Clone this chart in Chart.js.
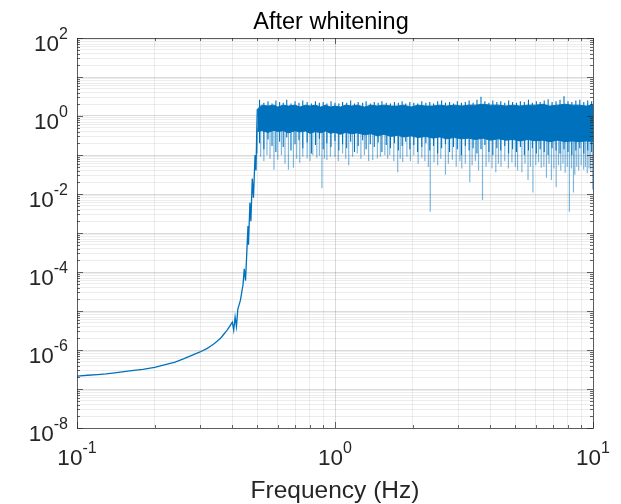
<!DOCTYPE html>
<html>
<head>
<meta charset="utf-8">
<script src="https://cdn.jsdelivr.net/npm/chart.js@4"></script>
<style>
  body { margin: 0; background: #fff; }
</style>
</head>
<body>
<canvas id="myChart" width="621" height="504"></canvas>
<script>
// smooth low-frequency part and the steep rise (Hz, amplitude)
const rollHz  = [0.1, 0.11, 0.12, 0.13, 0.14, 0.16, 0.18, 0.2, 0.22, 0.24, 0.26, 0.28, 0.3, 0.32, 0.33, 0.34, 0.35, 0.36, 0.37, 0.38, 0.39, 0.4, 0.405, 0.41, 0.415, 0.42, 0.43, 0.44, 0.445, 0.45, 0.455, 0.46, 0.462, 0.468, 0.472, 0.478, 0.483, 0.49, 0.494, 0.498, 0.5];
const rollVal = [2.15e-7, 2.25e-7, 2.35e-7, 2.45e-7, 2.6e-7, 2.9e-7, 3.2e-7, 3.6e-7, 4.2e-7, 4.9e-7, 6e-7, 7.4e-7, 8.9e-7, 1.1e-6, 1.26e-6, 1.45e-6, 1.7e-6, 2.0e-6, 2.5e-6, 3.1e-6, 4e-6, 5.2e-6, 3.2e-6, 7e-6, 4e-6, 1.1e-5, 1.9e-5, 4.7e-5, 1.2e-4, 6e-5, 3e-4, 1.5e-3, 5e-4, 6e-3, 2e-3, 2.5e-2, 8e-3, 0.1, 0.04, 0.6, 1.5];

// noisy plateau: upper edge and lower edge of the solid core
const bandHz   = [0.5, 0.52, 0.55, 0.58, 0.6, 0.63, 0.66, 0.7, 0.73, 0.77, 0.8, 0.84, 0.88, 0.92, 0.96, 1.0, 1.05, 1.1, 1.16, 1.22, 1.3, 1.38, 1.46, 1.55, 1.65, 1.75, 1.85, 1.97, 2.1, 2.25, 2.4, 2.55, 2.7, 2.9, 3.1, 3.3, 3.5, 3.75, 4.0, 4.3, 4.6, 4.9, 5.2, 5.6, 6.0, 6.4, 6.8, 7.3, 7.8, 8.3, 8.8, 9.4, 10];
const bandHigh = [1.5, 1.9, 1.8, 1.9, 1.7, 1.9, 1.8, 1.9, 1.7, 1.9, 1.8, 1.9, 1.7, 1.9, 1.7, 1.8, 1.7, 1.9, 1.8, 1.9, 1.7, 1.9, 1.8, 1.9, 1.8, 1.8, 1.9, 1.7, 1.9, 1.8, 1.8, 1.9, 1.8, 1.9, 1.8, 1.9, 1.9, 2.0, 1.9, 1.9, 1.8, 1.9, 1.8, 1.9, 1.9, 2.0, 1.8, 1.9, 2.0, 1.9, 1.9, 1.8, 1.9];
const bandLow  = [0.4, 0.42, 0.38, 0.43, 0.4, 0.42, 0.37, 0.42, 0.39, 0.41, 0.36, 0.4, 0.37, 0.41, 0.36, 0.38, 0.34, 0.38, 0.35, 0.37, 0.33, 0.35, 0.31, 0.34, 0.3, 0.32, 0.29, 0.31, 0.28, 0.3, 0.27, 0.29, 0.26, 0.28, 0.26, 0.27, 0.25, 0.27, 0.24, 0.26, 0.24, 0.25, 0.23, 0.25, 0.23, 0.24, 0.22, 0.24, 0.22, 0.23, 0.22, 0.23, 0.22];

// vertical extent of the noise at sampled frequencies (top hair, bottom hair)
const hairHz  = [0.51, 0.53, 0.55, 0.57, 0.59, 0.61, 0.63, 0.65, 0.675, 0.7, 0.725, 0.75, 0.78, 0.81, 0.84, 0.87, 0.9, 0.93, 0.965, 1.0, 1.035, 1.07, 1.11, 1.15, 1.19, 1.23, 1.28, 1.32, 1.37, 1.42, 1.47, 1.52, 1.58, 1.64, 1.7, 1.76, 1.82, 1.88, 1.95, 2.02, 2.09, 2.17, 2.25, 2.33, 2.41, 2.5, 2.59, 2.68, 2.78, 2.88, 2.98, 3.09, 3.2, 3.31, 3.43, 3.55, 3.68, 3.81, 3.95, 4.09, 4.24, 4.39, 4.55, 4.71, 4.88, 5.05, 5.23, 5.42, 5.62, 5.82, 6.03, 6.24, 6.47, 6.7, 6.94, 7.19, 7.45, 7.72, 8.0, 8.28, 8.58, 8.89, 9.21, 9.54, 9.88];
const hairTop = [2.6, 2.2, 2.4, 2.1, 2.5, 2.3, 2.2, 2.6, 2.1, 2.4, 2.2, 2.5, 2.3, 2.1, 2.4, 2.2, 2.3, 2.1, 2.4, 2.2, 2.1, 2.3, 2.2, 2.5, 2.1, 2.3, 2.2, 2.4, 2.1, 2.3, 2.2, 2.4, 2.2, 2.1, 2.3, 2.2, 2.4, 2.1, 2.3, 2.2, 2.1, 2.4, 2.2, 2.3, 2.1, 2.4, 2.5, 2.2, 2.3, 2.1, 2.4, 2.2, 2.3, 2.5, 2.2, 2.6, 3.1, 2.4, 2.2, 2.5, 2.3, 2.4, 2.2, 2.5, 2.3, 2.2, 2.4, 2.3, 2.6, 2.2, 2.4, 2.3, 2.5, 2.7, 2.3, 2.4, 2.6, 3.2, 2.4, 2.3, 2.5, 2.6, 2.3, 2.5, 2.4];
const hairLow = [0.2, 0.14, 0.25, 0.17, 0.12, 0.22, 0.16, 0.28, 0.13, 0.19, 0.24, 0.15, 0.21, 0.11, 0.18, 0.26, 0.14, 0.2, 0.16, 0.23, 0.13, 0.19, 0.15, 0.22, 0.12, 0.17, 0.24, 0.14, 0.19, 0.16, 0.21, 0.12, 0.18, 0.15, 0.2, 0.13, 0.17, 0.22, 0.14, 0.18, 0.12, 0.16, 0.2, 0.13, 0.17, 0.11, 0.15, 0.19, 0.12, 0.16, 0.14, 0.1, 0.17, 0.13, 0.15, 0.11, 0.14, 0.18, 0.12, 0.1, 0.15, 0.13, 0.17, 0.11, 0.14, 0.12, 0.16, 0.1, 0.13, 0.15, 0.11, 0.14, 0.12, 0.1, 0.15, 0.13, 0.11, 0.14, 0.12, 0.1, 0.13, 0.15, 0.11, 0.13, 0.12];

// deep downward spikes below the band (Hz, lowest amplitude)
const spikeHz  = [0.5, 0.515, 0.53, 0.545, 0.56, 0.58, 0.6, 0.62, 0.64, 0.66, 0.69, 0.71, 0.73, 0.75, 0.78, 0.8, 0.82, 0.85, 0.87, 0.89, 0.91, 0.93, 0.96, 1.0, 1.03, 1.07, 1.1, 1.13, 1.17, 1.22, 1.26, 1.3, 1.35, 1.4, 1.46, 1.5, 1.56, 1.6, 1.63, 1.69, 1.75, 1.79, 1.83, 1.9, 1.96, 2.02, 2.1, 2.17, 2.23, 2.3, 2.34, 2.42, 2.5, 2.57, 2.68, 2.75, 2.85, 2.95, 3.05, 3.1, 3.2, 3.33, 3.4, 3.5, 3.6, 3.73, 3.85, 3.95, 4.06, 4.2, 4.3, 4.4, 4.55, 4.7, 4.85, 5.0, 5.1, 5.3, 5.45, 5.6, 5.72, 5.85, 6.0, 6.15, 6.3, 6.45, 6.6, 6.75, 6.9, 7.05, 7.2, 7.35, 7.5, 7.65, 7.8, 7.95, 8.1, 8.25, 8.4, 8.5, 8.65, 8.8, 9.0, 9.2, 9.35, 9.5, 9.65, 9.8, 9.97];
const spikeVal = [0.11, 0.09, 0.07, 0.1, 0.08, 0.042, 0.075, 0.1, 0.06, 0.042, 0.047, 0.08, 0.063, 0.09, 0.083, 0.07, 0.1, 0.085, 0.095, 0.014, 0.08, 0.074, 0.09, 0.089, 0.07, 0.11, 0.08, 0.055, 0.09, 0.11, 0.08, 0.1, 0.07, 0.074, 0.083, 0.09, 0.1, 0.08, 0.1, 0.07, 0.036, 0.08, 0.066, 0.09, 0.07, 0.1, 0.06, 0.085, 0.07, 0.049, 0.0035, 0.065, 0.055, 0.08, 0.031, 0.06, 0.075, 0.05, 0.07, 0.045, 0.06, 0.02, 0.055, 0.07, 0.04, 0.007, 0.05, 0.065, 0.045, 0.036, 0.06, 0.05, 0.07, 0.045, 0.065, 0.05, 0.04, 0.036, 0.06, 0.023, 0.05, 0.011, 0.055, 0.065, 0.047, 0.05, 0.026, 0.06, 0.023, 0.045, 0.015, 0.055, 0.04, 0.06, 0.035, 0.05, 0.0035, 0.045, 0.011, 0.031, 0.05, 0.04, 0.055, 0.042, 0.05, 0.034, 0.045, 0.04, 0.013];

const xExps = [-1, 0, 1];
const yExps = [2, 0, -2, -4, -6, -8];

const BLUE = '#0072BD';
const FONT = '"Liberation Sans", Arial, Helvetica, sans-serif';

function toPts(xs, ys) {
    return xs.map((v, i) => ({ x: v, y: ys[i] }));
}

// separate vertical strokes, one per frequency
function strokePts(xs, lows, highs) {
    const pts = [];
    xs.forEach((v, i) => {
        const hi = Array.isArray(highs) ? highs[i] : highs;
        pts.push({ x: v, y: hi }, { x: v, y: lows[i] }, { x: v, y: null });
    });
    return pts;
}

// 1..9 x 10^k ticks between two decades
function logTicks(lo, hi) {
    const out = [];
    for (let e = lo; e < hi; e++) {
        for (let m = 1; m < 10; m++) out.push({ value: m * Math.pow(10, e) });
    }
    out.push({ value: Math.pow(10, hi) });
    return out;
}

function isMajor(v) {
    const l = Math.log10(v);
    return Math.abs(l - Math.round(l)) < 1e-6;
}

const gridColor = (c) => (c.tick && isMajor(c.tick.value)) ? 'rgba(0,0,0,0.14)' : 'rgba(0,0,0,0.07)';

function drawPow(ctx, exp, x, baseY, align) {
    const base = '10', sup = String(exp);
    ctx.font = '22.5px ' + FONT;
    const wb = ctx.measureText(base).width;
    ctx.font = '16px ' + FONT;
    const ws = ctx.measureText(sup).width;
    const left = align === 'right' ? x - wb - ws : x - (wb + ws) / 2;
    ctx.textAlign = 'left';
    ctx.textBaseline = 'alphabetic';
    ctx.font = '22.5px ' + FONT;
    ctx.fillText(base, left, baseY);
    ctx.font = '16px ' + FONT;
    ctx.fillText(sup, left + wb, baseY - 12);
}

const axesPlugin = {
    id: 'matlabAxes',
    afterDraw(chart) {
        const { ctx, chartArea: a, scales: { x, y } } = chart;
        ctx.save();
        // box
        ctx.strokeStyle = 'rgba(38,38,38,0.7)';
        ctx.lineWidth = 1;
        ctx.strokeRect(a.left + 0.5, a.top + 0.5, a.right - a.left, a.bottom - a.top);
        // inner tick marks
        ctx.beginPath();
        x.ticks.forEach(t => {
            const px = Math.round(x.getPixelForValue(t.value)) + 0.5;
            const len = isMajor(t.value) ? 6 : 3;
            ctx.moveTo(px, a.bottom); ctx.lineTo(px, a.bottom - len);
            ctx.moveTo(px, a.top); ctx.lineTo(px, a.top + len);
        });
        y.ticks.forEach(t => {
            const py = Math.round(y.getPixelForValue(t.value)) + 0.5;
            const len = isMajor(t.value) ? 6 : 3;
            ctx.moveTo(a.left, py); ctx.lineTo(a.left + len, py);
            ctx.moveTo(a.right, py); ctx.lineTo(a.right - len, py);
        });
        ctx.stroke();
        // tick labels
        ctx.fillStyle = '#262626';
        yExps.forEach(e => {
            const py = y.getPixelForValue(Math.pow(10, e));
            drawPow(ctx, e, 68, py + 13, 'right');
        });
        xExps.forEach(e => {
            const px = x.getPixelForValue(Math.pow(10, e));
            drawPow(ctx, e, px, 465, 'center');
        });
        // axis label and title
        ctx.textAlign = 'center';
        ctx.font = '24.5px ' + FONT;
        ctx.fillText('Frequency (Hz)', (a.left + a.right) / 2, 498);
        ctx.fillStyle = '#000';
        ctx.font = '23.5px ' + FONT;
        ctx.fillText('After whitening', (a.left + a.right) / 2 - 4, 29);
        ctx.restore();
    }
};

const ctx = document.getElementById('myChart').getContext('2d');
const chart = new Chart(ctx, {
    type: 'line',
    data: {
        datasets: [
            { data: toPts(bandHz, bandHigh), borderColor: BLUE, backgroundColor: BLUE, borderWidth: 1, fill: '+1' },
            { data: toPts(bandHz, bandLow), borderColor: BLUE, borderWidth: 1, fill: false },
            { data: strokePts(spikeHz, spikeVal, 0.5), borderColor: 'rgba(0,114,189,0.5)', borderWidth: 1.2, fill: false, spanGaps: false },
            { data: strokePts(hairHz, hairLow, hairTop), borderColor: BLUE, borderWidth: 1.1, fill: false, spanGaps: false },
            { data: toPts(rollHz, rollVal), borderColor: BLUE, borderWidth: 1.3, fill: false }
        ]
    },
    options: {
        responsive: false,
        animation: false,
        layout: { padding: { left: 77, right: 28, top: 38, bottom: 76 } },
        elements: { point: { radius: 0 }, line: { tension: 0 } },
        plugins: { legend: { display: false }, title: { display: false }, tooltip: { enabled: false } },
        scales: {
            x: {
                type: 'logarithmic', min: 0.1, max: 10,
                afterBuildTicks: s => { s.ticks = logTicks(-1, 1); },
                ticks: { display: false },
                grid: { color: gridColor, drawTicks: false, tickLength: 0 },
                border: { display: false }
            },
            y: {
                type: 'logarithmic', min: 1e-8, max: 100,
                afterBuildTicks: s => { s.ticks = logTicks(-8, 2); },
                ticks: { display: false },
                grid: { color: gridColor, drawTicks: false, tickLength: 0 },
                border: { display: false }
            }
        }
    },
    plugins: [axesPlugin]
});
</script>
</body>
</html>
